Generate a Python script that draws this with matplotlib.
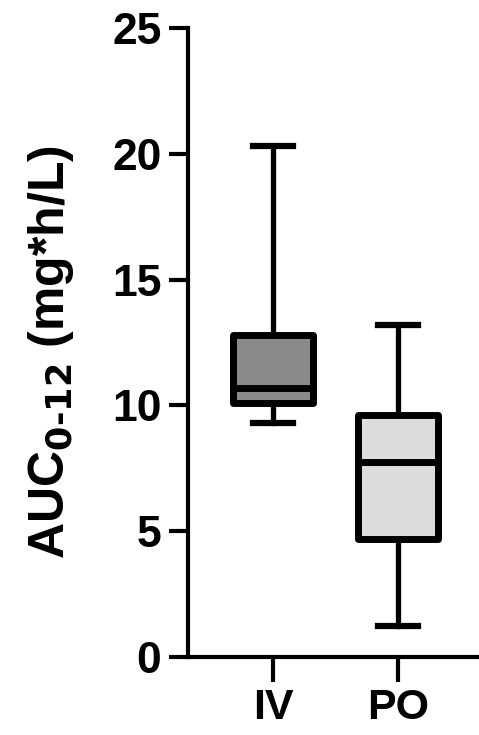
import matplotlib.pyplot as plt

plt.rcParams['font.family'] = ['Liberation Sans', 'DejaVu Sans']
plt.rcParams['font.weight'] = 'bold'
plt.rcParams['mathtext.default'] = 'bf'

# box summary values (mg*h/L)
groups = ["IV", "PO"]
mins = [9.3, 1.25]
q1s = [10.1, 4.7]
medians = [10.7, 7.75]
q3s = [12.8, 9.6]
maxs = [20.3, 13.2]
fills = ["#8a8a8a", "#dcdcdc"]

stats = []
for i, g in enumerate(groups):
    stats.append({"label": g, "whislo": mins[i], "q1": q1s[i], "med": medians[i],
                  "q3": q3s[i], "whishi": maxs[i], "fliers": []})

fig = plt.figure(figsize=(4.79, 7.35), dpi=100)
ax = fig.add_axes([0.392, 0.106, 0.604, 0.856])

lw = 5
bp = ax.bxp(stats, positions=[1, 2], widths=0.64, patch_artist=True,
            showfliers=False,
            boxprops=dict(linewidth=lw, edgecolor="black"),
            medianprops=dict(linewidth=lw, color="black", solid_capstyle="butt"),
            whiskerprops=dict(linewidth=3.8, color="black"),
            capprops=dict(linewidth=4.5, color="black"),
            capwidths=0.32)
for patch, c in zip(bp["boxes"], fills):
    patch.set_facecolor(c)
    patch.set_joinstyle("round")

ax.set_xlim(0.32, 2.63)
ax.set_ylim(0, 25)
ax.set_yticks([0, 5, 10, 15, 20, 25])
ax.spines["top"].set_visible(False)
ax.spines["right"].set_visible(False)
ax.spines["left"].set_linewidth(3)
ax.spines["bottom"].set_linewidth(3)
ax.tick_params(axis="y", length=14, width=3, labelsize=32, pad=5)
ax.tick_params(axis="x", length=18, width=3, labelsize=31, pad=4)

ax.set_ylabel("AUC$_{0\u201012}$ (mg*h/L)", fontsize=36, fontweight="bold")
ax.yaxis.set_label_coords(-0.385, 0.485)

fig.savefig("out.png", dpi=100)
